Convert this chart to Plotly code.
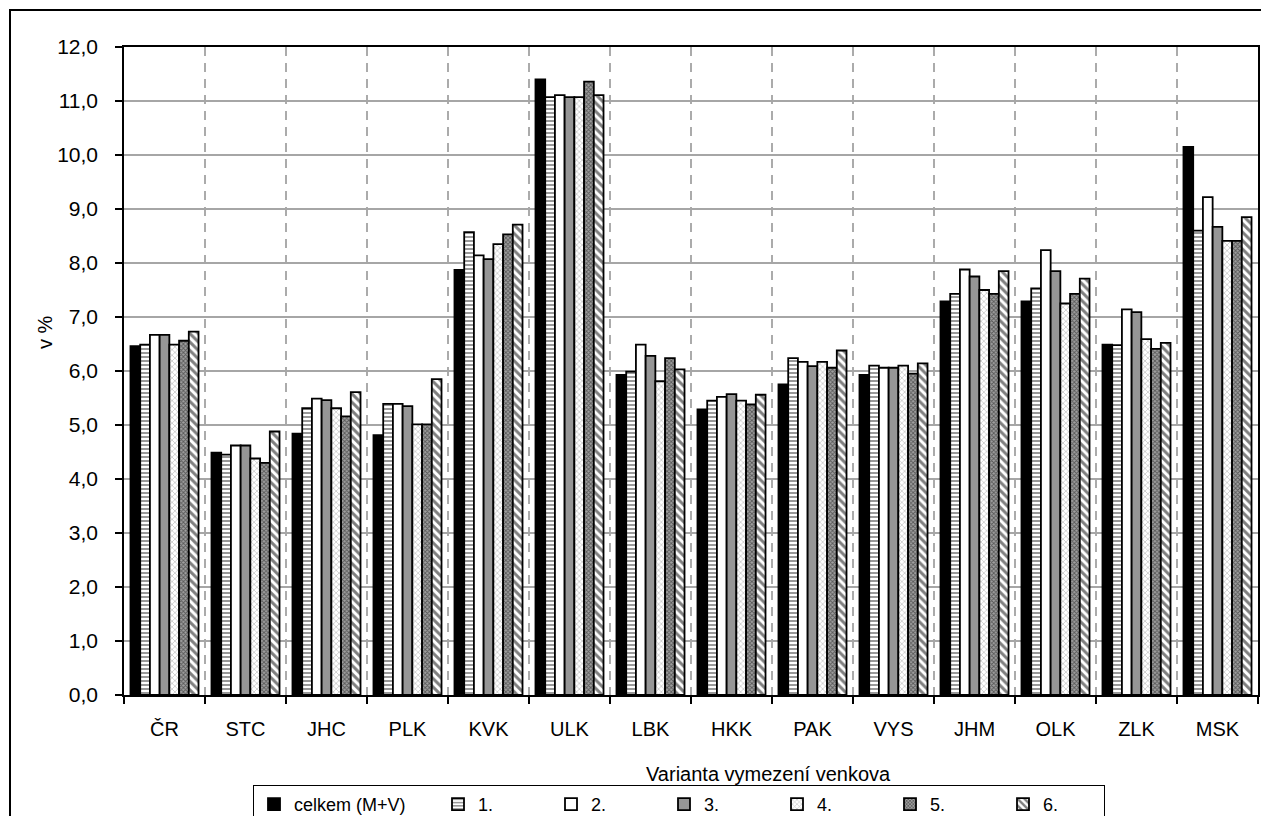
import plotly.graph_objects as go

categories = ["ČR", "STC", "JHC", "PLK", "KVK", "ULK", "LBK", "HKK", "PAK", "VYS", "JHM", "OLK", "ZLK", "MSK"]

celkem = [6.46, 4.49, 4.84, 4.81, 7.87, 11.40, 5.93, 5.29, 5.75, 5.93, 7.29, 7.29, 6.49, 10.15]
v1 = [6.49, 4.45, 5.31, 5.39, 8.57, 11.07, 5.99, 5.45, 6.24, 6.10, 7.43, 7.53, 6.48, 8.60]
v2 = [6.67, 4.62, 5.49, 5.39, 8.14, 11.11, 6.49, 5.52, 6.17, 6.06, 7.88, 8.24, 7.14, 9.22]
v3 = [6.67, 4.62, 5.46, 5.35, 8.07, 11.07, 6.28, 5.57, 6.09, 6.06, 7.75, 7.85, 7.09, 8.67]
v4 = [6.49, 4.38, 5.31, 5.01, 8.35, 11.07, 5.81, 5.45, 6.17, 6.10, 7.50, 7.25, 6.59, 8.41]
v5 = [6.56, 4.30, 5.16, 5.01, 8.53, 11.36, 6.24, 5.38, 6.06, 5.95, 7.43, 7.43, 6.41, 8.41]
v6 = [6.73, 4.88, 5.61, 5.85, 8.71, 11.11, 6.03, 5.56, 6.38, 6.14, 7.85, 7.71, 6.52, 8.85]

series_names = ["celkem (M+V)", "1.", "2.", "3.", "4.", "5.", "6."]
series_values = [celkem, v1, v2, v3, v4, v5, v6]

FONT = "Liberation Sans, Arial, sans-serif"

styles = [
    dict(color="#000000"),
    dict(color="#ffffff", pattern=dict(shape="-", fgcolor="#000000", bgcolor="#ffffff", size=4, solidity=0.4)),
    dict(color="#ffffff"),
    dict(color="#969696"),
    dict(color="#ffffff", pattern=dict(shape="x", fgcolor="#8c8c8c", bgcolor="#ffffff", size=4, solidity=0.35)),
    dict(color="#666666", pattern=dict(shape="x", fgcolor="#111111", bgcolor="#a0a0a0", size=3, solidity=0.5)),
    dict(color="#ffffff", pattern=dict(shape="\\", fgcolor="#000000", bgcolor="#ffffff", size=6, solidity=0.5)),
]
legend_widths = [139, 68, 68, 68, 68, 68, 56]

fig = go.Figure()
for name, vals, st, lw in zip(series_names, series_values, styles, legend_widths):
    marker = dict(line=dict(color="#000000", width=1.8))
    marker["color"] = st["color"]
    if "pattern" in st:
        marker["pattern"] = st["pattern"]
    fig.add_trace(go.Bar(x=categories, y=vals, name=name, marker=marker, legendwidth=lw))

W, H = 1261, 816
L, R, T, B = 124, 3, 47, 121
pw, ph = W - L - R, H - T - B

def px_x(x):
    return (x - L) / pw

def px_y(y):
    return (H - B - y) / ph

fig.update_layout(
    width=W, height=H,
    margin=dict(l=L, r=R, t=T, b=B, autoexpand=False),
    paper_bgcolor="white", plot_bgcolor="white",
    font=dict(family=FONT, size=20, color="#000000"),
    separators=", ",
    barmode="group", bargap=0.16, bargroupgap=0.0,
    showlegend=True,
    legend=dict(
        orientation="h", x=px_x(253), xanchor="left", y=px_y(785), yanchor="top",
        bordercolor="#000000", borderwidth=1, bgcolor="white",
        font=dict(family=FONT, size=18), traceorder="normal",
    ),
    xaxis=dict(
        type="category", tickson="boundaries", ticks="outside", ticklen=7, tickcolor="#000000",
        tickwidth=1.5, showline=True, linecolor="#000000", linewidth=1.5, mirror=True,
        showgrid=True, gridcolor="#ababab", gridwidth=1.5, griddash="9px,7px",
        ticklabelstandoff=15, tickfont=dict(size=20),
    ),
    yaxis=dict(
        range=[0, 12], dtick=1, tickformat=".1f", ticks="outside", ticklen=7,
        tickcolor="#000000", tickwidth=1.5, showline=True, linecolor="#000000",
        linewidth=1.5, mirror=True, showgrid=True, gridcolor="#a6a6a6", gridwidth=1.5,
        ticklabelstandoff=13, tickfont=dict(size=21), zeroline=False,
    ),
    annotations=[
        dict(text="Varianta vymezení venkova", xref="paper", yref="paper",
             x=px_x(768), y=px_y(774), xanchor="center", yanchor="middle",
             showarrow=False, font=dict(size=20)),
        dict(text="v %", xref="paper", yref="paper", x=px_x(45), y=px_y(332),
             xanchor="center", yanchor="middle", textangle=-90, showarrow=False,
             font=dict(size=20)),
    ],
    shapes=[
        dict(type="rect", xref="paper", yref="paper", x0=px_x(10), x1=px_x(1275),
             y0=px_y(830), y1=px_y(10), line=dict(color="#000000", width=2),
             fillcolor="rgba(0,0,0,0)", layer="below"),
    ],
)

fig.write_html(
    "out.html",
    config={"displayModeBar": False},
    post_script="document.body.style.margin='0';document.body.style.overflow='hidden';",
)
